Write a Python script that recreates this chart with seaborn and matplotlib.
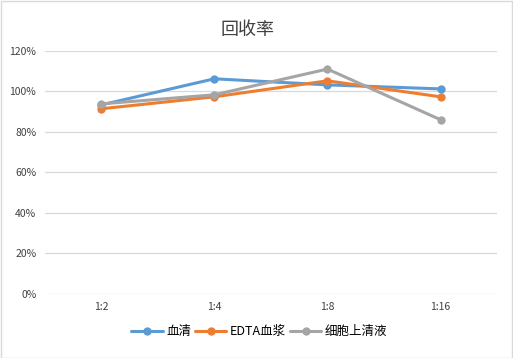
import pandas as pd
import matplotlib
matplotlib.use('Agg')
import matplotlib.pyplot as plt
import matplotlib.ticker as mticker
import seaborn as sns

# Duomenys
categories = ['1:2', '1:4', '1:8', '1:16']
serum = [0.933, 1.062, 1.032, 1.012]
edta_plasma = [0.914, 0.973, 1.052, 0.973]
supernatant = [0.938, 0.983, 1.11, 0.86]
series_names = ['血清', 'EDTA血浆', '细胞上清液']
colors = ['#5B9BD5', '#ED7D31', '#A5A5A5']

df = pd.DataFrame({
    'ratio': categories * 3,
    'value': serum + edta_plasma + supernatant,
    'series': [series_names[0]] * 4 + [series_names[1]] * 4 + [series_names[2]] * 4,
})
df['ratio'] = pd.Categorical(df['ratio'], categories=categories, ordered=True)

sns.set_style('white')
plt.rcParams['font.family'] = ['Noto Sans CJK SC', 'DejaVu Sans']

fig = plt.figure(figsize=(5.13, 3.58), dpi=100)
ax = fig.add_axes([0.087, 0.179, 0.882, 0.679])

sns.lineplot(data=df, x='ratio', y='value', hue='series', palette=colors,
             hue_order=series_names, marker='o', markersize=6, markeredgewidth=0,
             linewidth=2.2, ax=ax, sort=False)

ax.set_xlim(-0.5, 3.5)
ax.set_ylim(0, 1.2)
ax.yaxis.set_major_locator(mticker.MultipleLocator(0.2))
ax.yaxis.set_major_formatter(mticker.PercentFormatter(1.0, decimals=0))
ax.grid(axis='y', color='#D9D9D9', linewidth=0.9)
ax.set_axisbelow(True)
for s in ax.spines.values():
    s.set_visible(False)
ax.tick_params(axis='both', length=0, labelsize=7.5, colors='#404040', pad=6)
ax.set_xlabel('')
ax.set_ylabel('')

fig.text(0.482, 0.915, '回收率', ha='center', va='center', fontsize=13, color='#404040')

handles, labels = ax.get_legend_handles_labels()
ax.legend(handles, labels, loc='center', bbox_to_anchor=(0.475, -0.155), ncol=3,
          frameon=False, fontsize=9, handlelength=2.5, columnspacing=0.3,
          handletextpad=0.3, labelcolor='#000000')

# Rėmelis aplink paveikslą
fig.patches.append(plt.Rectangle((0.001, 0.001), 0.997, 0.996, transform=fig.transFigure,
                                 fill=False, edgecolor='#D9D9D9', linewidth=1))

fig.savefig('out.png', dpi=100)
